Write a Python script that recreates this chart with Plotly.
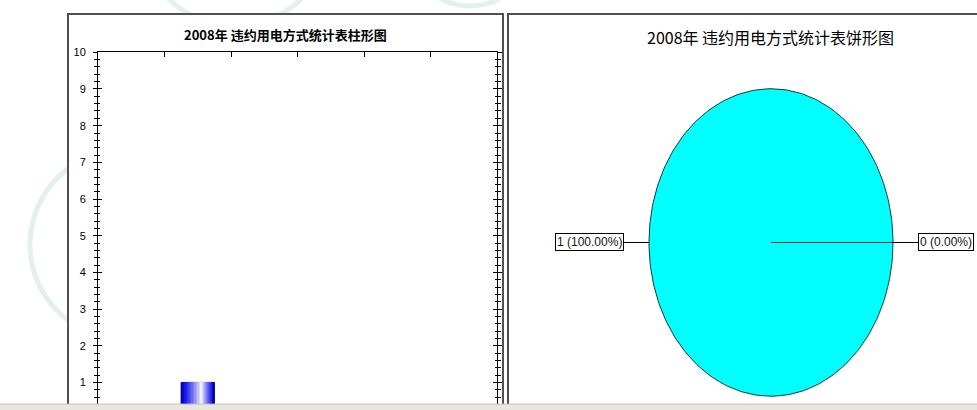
import math
import plotly.graph_objects as go

# ---------------- data ----------------
bar_title = "2008年 违约用电方式统计表柱形图"
pie_title = "2008年 违约用电方式统计表饼形图"
bar_x = [1.5]          # position of the single category on the 0..6 axis
bar_values = [1]
pie_values = [1, 0]
y_ticks = list(range(0, 11))

# ---------------- layout constants (pixels) ----------------
W, H = 977, 410
def px(x):
    return x / W
def py(y):
    return 1 - y / H

plot_l, plot_r, plot_t, plot_b = 98, 497, 47, 404
unit = (382 - 47) / 9.0
y_top = 10
y_bot = y_top - (plot_b - plot_t) / unit

fig = go.Figure()

# gradient bar made from stacked overlay bars (dark blue edges -> pale centre)
layers = 14
for i in range(layers):
    t = i / (layers - 1)
    w = 0.5 * (1 - t) + 0.03 * t
    r = int(0 + 238 * t ** 1.3)
    g = int(0 + 240 * t ** 1.3)
    b = int(216 + 39 * t)
    c = f'rgb({r},{g},{b})'
    fig.add_trace(go.Bar(
        x=bar_x, y=bar_values, width=w, marker_color=c,
        marker_line=dict(color='#000060' if i == 0 else c, width=1 if i == 0 else 0),
        xaxis='x', yaxis='y', showlegend=False, hoverinfo='skip',
        offset=-w / 2 + 0.05 * t
    ))

# ---------------- pie drawn as ellipse slices ----------------
cx, cy, rx, ry = 771, 240, 122, 156
total = sum(pie_values)
start = 0.0
slice_colors = ['#00ffff', '#ff00ff']
for i, v in enumerate(pie_values):
    f = v / total
    a0 = start
    a1 = start + f * 2 * math.pi
    if f > 0:
        n = max(2, int(240 * f))
        xs = [cx]
        ys = [cy]
        for k in range(n + 1):
            a = a0 + (a1 - a0) * k / n
            xs.append(cx + rx * math.cos(a))
            ys.append(cy - ry * math.sin(a))
        xs.append(cx)
        ys.append(cy)
        fig.add_trace(go.Scatter(
            x=xs, y=ys, mode='lines', fill='toself', fillcolor=slice_colors[i],
            line=dict(color='#0d3b3b', width=1), xaxis='x2', yaxis='y2',
            showlegend=False, hoverinfo='skip'
        ))
    m = (a0 + a1) / 2
    ex = cx + rx * math.cos(m)
    ey = cy - ry * math.sin(m)
    lx = cx + (rx + 25) * math.cos(m)
    fig.add_trace(go.Scatter(
        x=[ex, lx], y=[ey, ey], mode='lines', line=dict(color='black', width=1),
        xaxis='x2', yaxis='y2', showlegend=False, hoverinfo='skip'
    ))
    fig.add_annotation(
        x=lx, y=ey, xref='x2', yref='y2',
        text=f"{v} ({f * 100:.2f}%)", showarrow=False,
        xanchor='right' if math.cos(m) < 0 else 'left', yanchor='middle',
        font=dict(family='Liberation Sans', size=12, color='#111'),
        bordercolor='black', borderwidth=1, borderpad=1, bgcolor='white'
    )
    start = a1

# ---------------- titles ----------------
fig.add_annotation(x=px(285), y=py(28.5), xref='paper', yref='paper', text=f"<b>{bar_title}</b>",
                   showarrow=False, font=dict(family='Noto Sans CJK SC', size=13, color='black'),
                   xanchor='center', yanchor='middle')
fig.add_annotation(x=px(770.5), y=py(31), xref='paper', yref='paper', text=pie_title,
                   showarrow=False, font=dict(family='Noto Sans CJK SC', size=16, color='black'),
                   xanchor='center', yanchor='middle')

# ---------------- faint background watermark, panels, borders, strip ----------------
wm = '#e4f0ea'
for (wx, wy, wr) in [(127, 242, 97), (235, -75, 95), (470, -60, 60)]:
    fig.add_shape(type='circle', xref='paper', yref='paper',
                  x0=px(wx - wr), x1=px(wx + wr), y0=py(wy + wr), y1=py(wy - wr),
                  line=dict(color=wm, width=5), fillcolor='rgba(0,0,0,0)', layer='below')
fig.add_shape(type='rect', xref='paper', yref='paper', x0=px(68), x1=px(503), y0=-0.1, y1=py(8),
              fillcolor='white', line=dict(width=0), layer='below')
fig.add_shape(type='rect', xref='paper', yref='paper', x0=px(508), x1=1.1, y0=-0.1, y1=py(8),
              fillcolor='white', line=dict(width=0), layer='below')

border = '#505050'
fig.add_shape(type='path', xref='paper', yref='paper',
              path=f"M {px(68)} -0.2 L {px(68)} {py(8)} L {px(503)} {py(8)} L {px(503)} -0.2",
              line=dict(color=border, width=2), layer='above')
fig.add_shape(type='path', xref='paper', yref='paper',
              path=f"M {px(508)} -0.2 L {px(508)} {py(8)} L 1.2 {py(8)}",
              line=dict(color=border, width=2), layer='above')
fig.add_shape(type='rect', xref='paper', yref='paper', x0=0, x1=1, y0=0, y1=py(404),
              fillcolor='#e8e6de', line=dict(width=0), layer='above')
fig.add_shape(type='line', xref='paper', yref='paper', x0=0, x1=1, y0=py(404), y1=py(404),
              line=dict(color='#c4c2b8', width=1), layer='above')

axis_font = dict(family='Liberation Sans', size=11, color='black')
fig.update_layout(
    width=W, height=H,
    margin=dict(l=0, r=0, t=0, b=0),
    paper_bgcolor='white', plot_bgcolor='rgba(0,0,0,0)',
    barmode='overlay', bargap=0,
    hovermode=False,
    xaxis=dict(domain=[px(plot_l), px(plot_r)], range=[0, 6], dtick=1, tick0=0,
               ticks='inside', ticklen=5, tickcolor='black', showticklabels=False,
               showline=True, linecolor='black', linewidth=1, mirror=False,
               showgrid=False, zeroline=False, side='top', anchor='y', fixedrange=True),
    yaxis=dict(domain=[py(plot_b), py(plot_t)], range=[y_bot, y_top], tickvals=y_ticks,
               ticks='outside', ticklen=4, tickcolor='black', tickfont=axis_font,
               ticklabelstandoff=5,
               minor=dict(ticks='outside', ticklen=3, dtick=0.2, tick0=0, tickcolor='black', showgrid=False),
               showline=True, linecolor='black', linewidth=1, mirror='ticks',
               showgrid=False, zeroline=False, anchor='x', fixedrange=True),
    yaxis3=dict(overlaying='y', range=[y_bot, y_top], tickvals=y_ticks,
                ticks='inside', ticklen=4, tickcolor='black', showticklabels=False,
                minor=dict(ticks='inside', ticklen=2, dtick=0.2, tick0=0, tickcolor='black', showgrid=False),
                showline=False, mirror='ticks', showgrid=False, zeroline=False,
                anchor='x', fixedrange=True),
    xaxis2=dict(domain=[0, 1], range=[0, W], visible=False, anchor='y2', fixedrange=True),
    yaxis2=dict(domain=[0, 1], range=[H, 0], visible=False, anchor='x2', fixedrange=True),
)
# dummy trace to make yaxis3 render
fig.add_trace(go.Scatter(x=[None], y=[None], xaxis='x', yaxis='y3', showlegend=False, hoverinfo='skip'))

fig.write_html("out.html", config={'displayModeBar': False, 'staticPlot': True},
               post_script="document.body.style.margin='0';document.body.style.overflow='hidden';")
